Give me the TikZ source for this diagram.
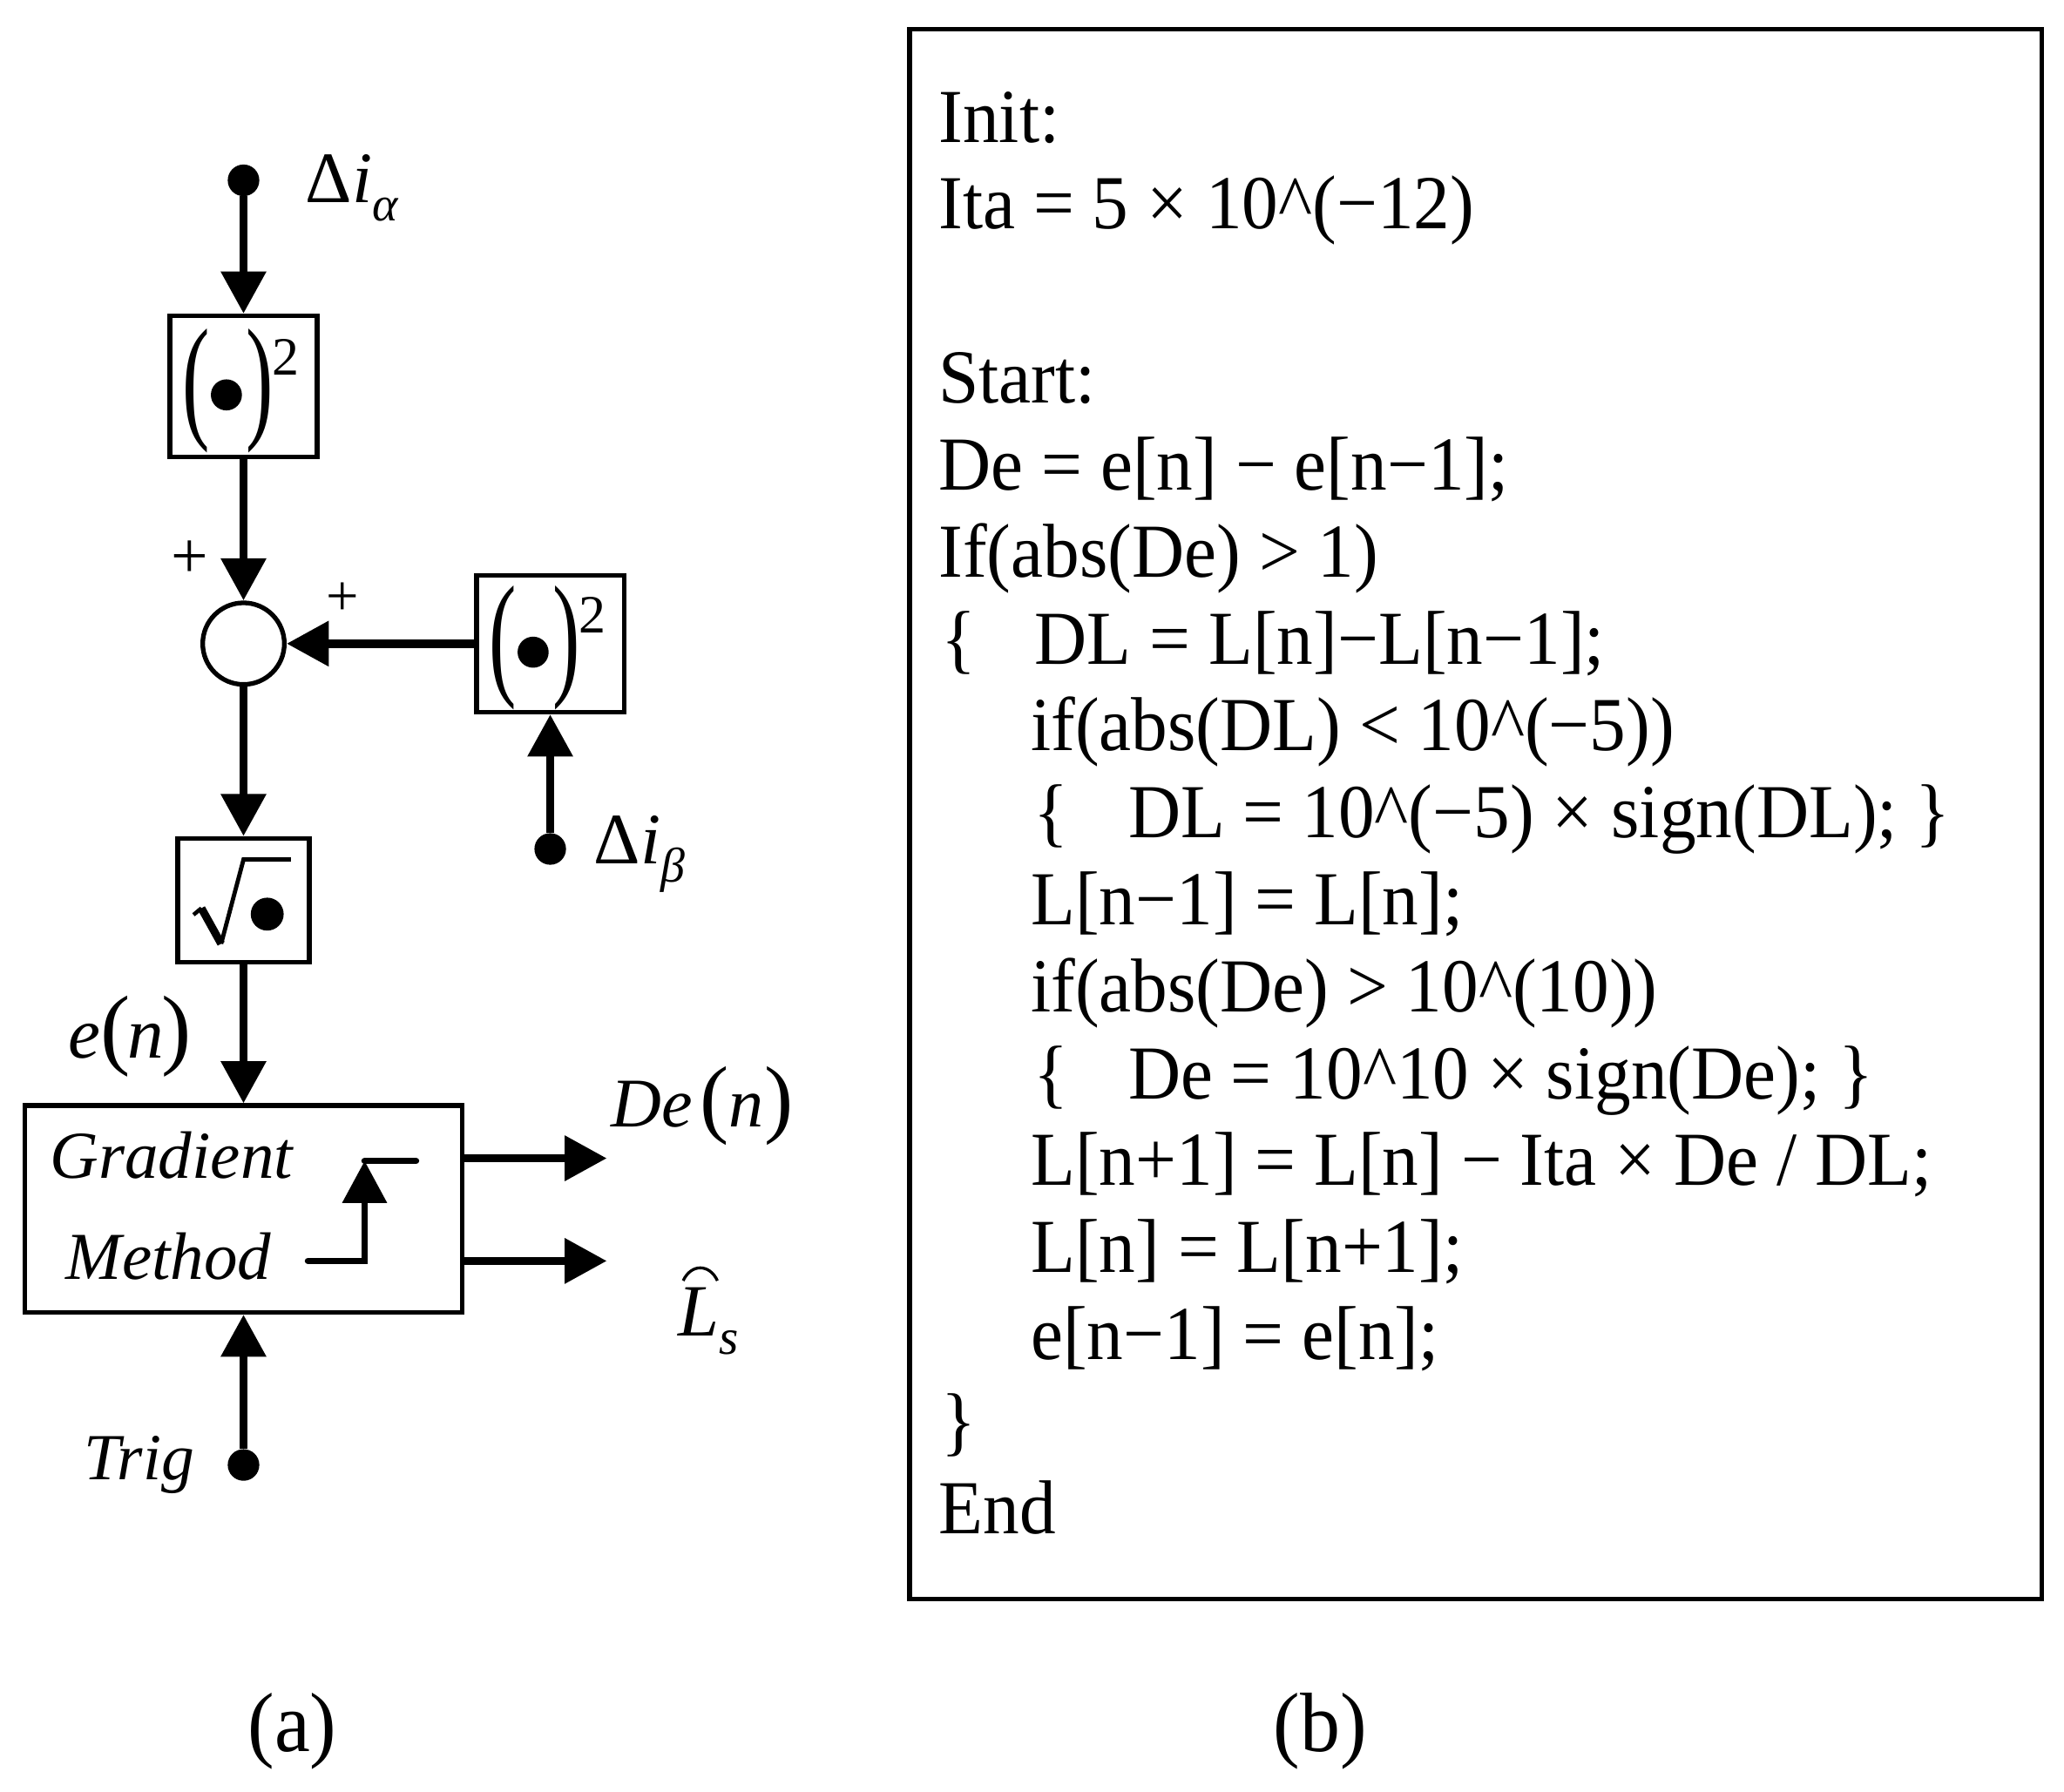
\documentclass[tikz,border=0pt]{standalone}
\usepackage{fontspec}
\setmainfont{Liberation Serif}
\newfontfamily\codefont{Liberation Serif}[FakeStretch=0.95]
\usetikzlibrary{arrows.meta}
\newcommand\myfs[1]{\fontsize{#1pt}{#1pt}\selectfont}
\newcommand\bigpar[1]{\scalebox{0.78}[1.3]{\myfs{80}#1}}
\begin{document}
\begin{tikzpicture}[x=1pt,y=-1pt,
  box/.style={draw,line width=3.5pt,inner sep=0pt},
  arr/.style={line width=6.5pt,-{Triangle[width=33pt,length=32pt]}},
  dotn/.style={circle,fill,inner sep=0pt,minimum size=24pt},
  lbl/.style={inner sep=0pt,anchor=base west},
  pc/.style={inner sep=0pt},
  sq/.style={inner sep=0pt,font=\myfs{41}},
  code/.style={inner sep=0pt,anchor=base west,font={\codefont\myfs{58}}},
  captxt/.style={inner sep=0pt,anchor=base,font={\codefont\myfs{64}}}]
\useasboundingbox (0,0) rectangle (1568,1361);
% ---------- (a) ----------
\node[dotn] (da) at (185,137) {};
\node[lbl] (la) at (232,154) {\myfs{55}Δ\textit{i}\raisebox{-14pt}{\myfs{37}\textit{α}}};
\node[box,minimum width=112pt,minimum height=107pt] (b1) at (185,293.5) {};
\node[pc] (b1l) at (149,297) {\bigpar{(}};
\fill (172,300) circle[radius=11.8pt];
\node[pc] (b1r) at (197.5,297) {\bigpar{)}};
\node[sq] (b1s) at (217,271.5) {2};
\node[circle,draw,line width=3.5pt,minimum size=62pt,inner sep=0pt] (sum) at (185,489) {};
\node[inner sep=0pt,font=\myfs{50}] (p1) at (144,425) {+};
\node[inner sep=0pt,font=\myfs{44}] (p2) at (260,455) {+};
\node[box,minimum width=112pt,minimum height=104pt] (b2) at (418,489) {};
\node[pc] (b2l) at (382,492.5) {\bigpar{(}};
\fill (405,495.5) circle[radius=11.8pt];
\node[pc] (b2r) at (430.5,492.5) {\bigpar{)}};
\node[sq] (b2s) at (450,467) {2};
\node[dotn] (db) at (418,645) {};
\node[lbl] (lb) at (451,656) {\myfs{55}Δ\textit{i}\raisebox{-14pt}{\myfs{37}\textit{β}}};
\node[box,minimum width=100pt,minimum height=94pt] (b3) at (185,684) {};
\draw[line width=3pt] (147,695) -- (153,690);
\draw[line width=6pt] (153,690) -- (168,717);
\draw[line width=3.2pt] (168,717) -- (185,653) -- (221,653);
\fill (203,694.5) circle[radius=12.5pt];
\node[lbl] (le) at (52,804) {\myfs{55}\textit{e}{\myfs{68}(}\kern-2pt\textit{n}\kern-2pt{\myfs{68})}};
\node[box,minimum width=332pt,minimum height=157pt] (gm) at (185,918.5) {};
\node[lbl,font=\myfs{51}] (tg) at (38,895) {\textit{Gradient}};
\node[lbl,font=\myfs{51}] (tm) at (50,972) {\textit{Method}};
\coordinate (s1) at (234,958);
\coordinate (s2) at (277,958);
\coordinate (s3) at (277,882);
\coordinate (s4) at (316,882);
\draw[line width=5pt,line cap=round,-{Triangle[width=33pt,length=32pt]}] (s1) -- (s2) -- (s3);
\draw[line width=5pt,line cap=round] (s3) -- (s4);
\coordinate (oDe) at (461,880);
\coordinate (oL) at (461,958);
\node[lbl] (lde) at (464,856) {\myfs{53}\textit{De}\kern6pt{\myfs{66}(}\textit{n}{\myfs{66})}};
\node[lbl] (lL) at (515,1015) {\myfs{56}\textit{L}\raisebox{-14pt}{\myfs{38}\textit{s}}};
\draw[line width=2.2pt] (519,973) .. controls (525,960) and (539,960) .. (545,973);
\node[dotn] (dt) at (185,1113) {};
\node[lbl,font=\myfs{50}] (lt) at (64,1124) {\textit{Trig}};
% connectors
\draw[arr] (da) -- (b1.north);
\draw[arr] (b1.south) -- (sum.north);
\draw[arr] (b2.west) -- (sum.east);
\draw[arr] (db) -- (b2.south);
\draw[arr] (sum.south) -- (b3.north);
\draw[arr] (b3.south) -- (gm.north);
\draw[arr] (dt) -- (gm.south);
\draw[arr] (gm.east |- oDe) -- (oDe);
\draw[arr] (gm.east |- oL) -- (oL);
\node[captxt] (capa) at (222,1331) {(a)};
% ---------- (b) ----------
\node[draw,line width=3.5pt,inner sep=0pt,minimum width=860pt,minimum height=1193pt] (cb) at (1121,618.5) {};
\node[code] (c0) at (713,108) {Init:};
\node[code] (c1) at (713,174.06) {Ita = 5 × 10\textasciicircum(−12)};
\node[code] (c3) at (713,306.18) {Start:};
\node[code] (c4) at (713,372.24) {De = e[n] − e[n−1];};
\node[code] (c5) at (713,438.3) {If(abs(De) > 1)};
\node[code] (c6a) at (715,504.36) {\{};
\node[code] (c6) at (786,504.36) {DL = L[n]−L[n−1];};
\node[code] (c7) at (783,570.42) {if(abs(DL) < 10\textasciicircum(−5))};
\node[code] (c8a) at (785,636.48) {\{};
\node[code] (c8) at (857,636.48) {DL = 10\textasciicircum(−5) × sign(DL); \}};
\node[code] (c9) at (783,702.54) {L[n−1] = L[n];};
\node[code] (c10) at (783,768.6) {if(abs(De) > 10\textasciicircum(10))};
\node[code] (c11a) at (785,834.66) {\{};
\node[code] (c11) at (857,834.66) {De = 10\textasciicircum10 × sign(De); \}};
\node[code] (c12) at (783,900.72) {L[n+1] = L[n] − Ita × De / DL;};
\node[code] (c13) at (783,966.78) {L[n] = L[n+1];};
\node[code] (c14) at (783,1032.84) {e[n−1] = e[n];};
\node[code] (c15) at (715,1098.9) {\}};
\node[code] (c16) at (713,1164.96) {End};
\node[captxt] (capb) at (1003,1331) {(b)};
\end{tikzpicture}
\end{document}
